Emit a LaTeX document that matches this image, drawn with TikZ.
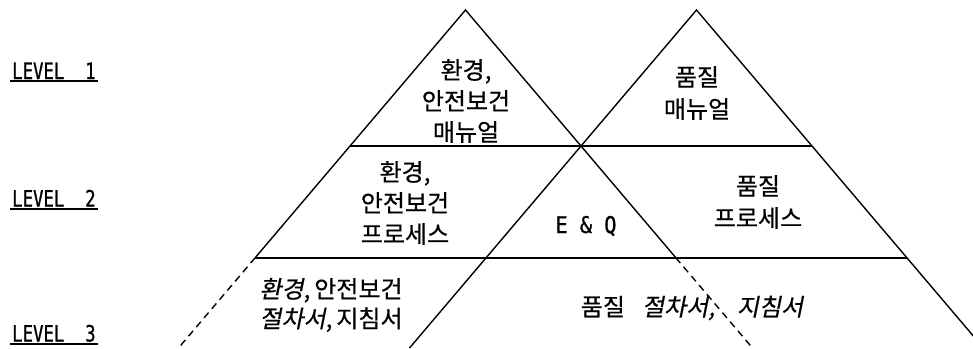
\documentclass[tikz,border=0pt]{standalone}
\usepackage{fontspec}
\usepackage{graphicx}
\newfontfamily\kr[FakeBold=0.5]{Noto Sans CJK KR}
\newfontfamily\kri[FakeSlant=0.2,FakeBold=0.5]{Noto Sans CJK KR}
\newfontfamily\lat[FakeStretch=0.77,FakeBold=0.9]{DejaVu Sans Mono}
\newfontfamily\lateq[FakeStretch=0.88,FakeBold=0.9]{DejaVu Sans Mono}
\begin{document}
\begin{tikzpicture}[x=1pt,y=-1pt,
  side/.style={line width=1.4pt},
  sidedash/.style={line width=1.4pt,dash pattern=on 7pt off 5pt},
  tier/.style={line width=1.8pt},
  kt/.style={font={\kr\fontsize{24}{31}\selectfont},align=center,inner sep=0pt},
  ktwide/.style={kt,font={\kr\fontsize{24}{32}\selectfont}},
  ktlow/.style={kt,font={\kr\fontsize{24}{29.5}\selectfont}},
  lvl/.style={font={\lat\fontsize{22.5}{24}\selectfont},inner sep=0pt,anchor=base west},
  eq/.style={font={\lateq\fontsize{23}{25}\selectfont},inner sep=0pt},
  uline/.style={line width=2pt}]
\useasboundingbox (0,0) rectangle (973,348);
\clip (0,0) rectangle (973,348);
% geometry
\coordinate (aL) at (465.5,10);
\coordinate (aR) at (696.5,10);
\coordinate (LL2) at (255.2,257.7);
\coordinate (LL3) at (178.5,348);
\coordinate (LR2) at (675.8,257.7);
\coordinate (LR3) at (752.5,348);
\coordinate (RL3) at (409.5,348);
\coordinate (RR3) at (983.5,348);
\coordinate (T1a) at (350,146);
\coordinate (T1b) at (812,146);
\coordinate (T2b) at (906.8,257.7);
% triangles
\draw[side] (LL2) -- (aL) -- (LR2);
\draw[sidedash] (LL2) -- (LL3);
\draw[sidedash] (LR2) -- (LR3);
\draw[side] (RL3) -- (aR) -- (RR3);
\draw[tier] (T1a) -- (T1b);
\draw[tier] (LL2) -- (T2b);
% level labels
\node[lvl] (lv1) at (12,79) {LEVEL\ \ 1};
\node[lvl] (lv2) at (12,206.5) {LEVEL\ \ 2};
\node[lvl] (lv3) at (12,341.5) {LEVEL\ \ 3};
\foreach \n in {lv1,lv2,lv3}
  \draw[uline] ([xshift=-2pt,yshift=-2.4pt]\n.base west) -- ([xshift=2pt,yshift=-2.4pt]\n.base east);
% texts
\node[kt] (envman) at (466,101) {환경,\\안전보건\\매뉴얼};
\node[ktwide] (qman) at (697,93) {품질\\매뉴얼};
\node[kt] (envproc) at (405,203) {환경,\\안전보건\\프로세스};
\node[ktwide] (qproc) at (758,202) {품질\\프로세스};
\node[eq] (eandq) at (586,226) {E\ \&\ Q};
\node[ktlow] (envdoc) at (331,305) {{\kri 환경},\hspace{4pt}안전보건\\{\kri 절차서},\hspace{4pt}지침서};
\node[kt] (qdoc) at (692,308) {품질\hspace{17pt}{\kri 절차서,\hspace{22pt}지침서}};
\end{tikzpicture}
\end{document}
